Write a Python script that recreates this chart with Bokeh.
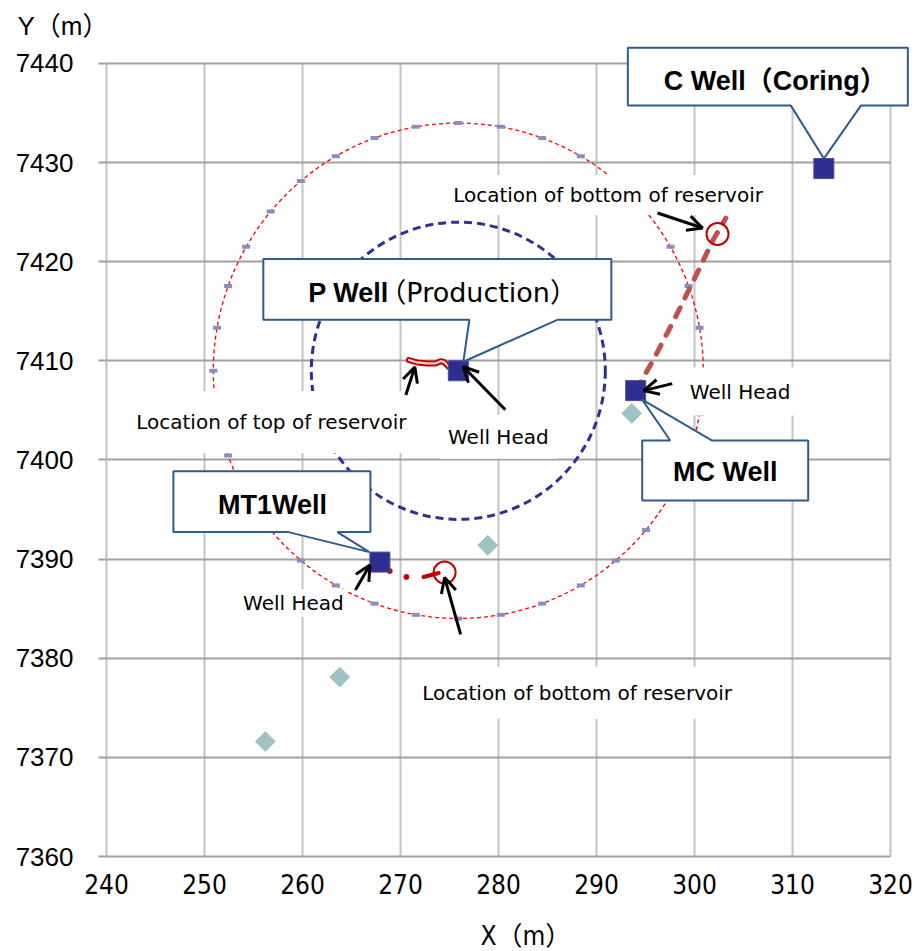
import numpy as np
from bokeh.plotting import figure
from bokeh.models import Range1d, FixedTicker, Label, Arrow, OpenHead, PolyAnnotation, Title
from bokeh.embed import file_html
from bokeh.resources import INLINE

# ---------------- data (metres) ----------------
x_ticks = [240, 250, 260, 270, 280, 290, 300, 310, 320]
y_ticks = [7360, 7370, 7380, 7390, 7400, 7410, 7420, 7430, 7440]

well_names = ["C Well", "P Well", "MC Well", "MT1Well"]
well_x = [313.2, 275.9, 294.0, 267.9]
well_y = [7429.4, 7409.0, 7407.0, 7389.7]

other_x = [293.6, 278.9, 263.8, 256.2]
other_y = [7404.7, 7391.4, 7378.1, 7371.6]

p_traj_x = [270.85, 271.70, 272.72, 273.57, 274.08, 274.42, 274.90, 275.9]
p_traj_y = [7410.08, 7409.84, 7409.74, 7409.74, 7409.97, 7409.90, 7409.40, 7409.0]

mc_traj_x = [294.0, 295.8, 297.9, 299.9, 301.9, 303.2]
mc_traj_y = [7407.0, 7410.1, 7414.1, 7418.1, 7422.2, 7424.4]
mc_bottom_x = [302.35]
mc_bottom_y = [7422.8]

mt1_dot_x = [268.9, 270.6]
mt1_dot_y = [7388.8, 7388.2]
mt1_seg_x = [272.35, 273.9]
mt1_seg_y = [7388.2, 7388.6]
mt1_bottom_x = [274.5]
mt1_bottom_y = [7388.65]

ring_outer_radius = 25.0
ring_inner_radius = 15.0
ring_marker_angles = [0, 10, 20, 30, 40, 50, 60, 70, 80, 90, 100, 110, 120, 130, 140, 150, 160, 170,
                      180, 190, 200, 210, 220, 230, 240, 250, 260, 270, 280, 290, 300, 310, 320, 330, 340, 350]

# ---------------- figure ----------------
W, H = 924, 951
BL, BR, BT, BB = 106, 12, 40, 94
FW, FH = W - BL - BR, H - BT - BB
X0, X1, Y0, Y1 = 240, 320, 7360, 7440
X_END, Y_END = 322.245, 7442.317   # a little room above/right for the callout

SANS = "Liberation Sans, Noto Sans CJK JP, sans-serif"
NARROW = "Liberation Sans Narrow, DejaVu Sans Condensed, Roboto Condensed, Liberation Sans, Noto Sans CJK JP, sans-serif"
LFONT = "DejaVu Sans, Noto Sans CJK JP, sans-serif"

p = figure(width=W, height=H, output_backend="svg", toolbar_location=None,
           x_range=Range1d(X0, X_END), y_range=Range1d(Y0, Y_END),
           min_border_left=BL, min_border_right=BR, min_border_top=BT, min_border_bottom=BB)
p.outline_line_color = None
p.background_fill_color = "white"

p.xaxis.ticker = FixedTicker(ticks=x_ticks)
p.yaxis.ticker = FixedTicker(ticks=y_ticks)
p.xaxis.bounds = (X0, X1)
p.yaxis.bounds = (Y0, Y1)
p.xgrid.ticker = FixedTicker(ticks=x_ticks)
p.ygrid.ticker = FixedTicker(ticks=y_ticks)
p.xgrid.cross_bounds = (Y0, Y1)
p.ygrid.cross_bounds = (X0, X1)
p.xgrid.grid_line_color = "#C4C4C4"
p.xgrid.grid_line_width = 2
p.ygrid.grid_line_color = "#A0A0A0"
p.ygrid.grid_line_width = 2

p.yaxis.axis_line_color = "#C4C4C4"
p.yaxis.axis_line_width = 2
p.yaxis.major_tick_out = 8
p.yaxis.major_tick_in = 0
p.yaxis.major_tick_line_color = "#A0A0A0"
p.yaxis.major_tick_line_width = 2
p.yaxis.minor_tick_line_color = None
p.yaxis.major_label_standoff = 25
p.yaxis.major_label_text_font = SANS
p.yaxis.major_label_text_font_size = "26px"
p.yaxis.major_label_text_color = "black"

p.xaxis.axis_line_color = "#A0A0A0"
p.xaxis.axis_line_width = 2
p.xaxis.major_tick_out = 0
p.xaxis.major_tick_in = 0
p.xaxis.minor_tick_line_color = None
p.xaxis.major_label_standoff = 17
p.xaxis.major_label_text_font = NARROW
p.xaxis.major_label_text_font_size = "26px"
p.xaxis.major_label_text_color = "black"

# axis titles
p.add_layout(Title(text="Y（m）", align="left", offset=-89, standoff=0,
                   text_font=SANS, text_font_size="26px", text_font_style="normal",
                   text_color="black"), "above")
p.add_layout(Title(text="X（m）", align="left", offset=374, standoff=2, padding=(0, 0, 21, 0),
                   text_font=NARROW, text_font_size="26px", text_font_style="normal",
                   text_color="black"), "below")

# ---------------- glyphs ----------------
Px, Py = well_x[1], well_y[1]
p.ellipse(x=[Px], y=[Py], width=2 * ring_outer_radius, height=2 * ring_outer_radius,
          fill_color=None, line_color="#FF0000", line_width=1.3, line_dash="4 3")
ang = np.radians(np.array(ring_marker_angles, dtype=float))
p.scatter(x=Px + ring_outer_radius * np.cos(ang), y=Py + ring_outer_radius * np.sin(ang),
          marker="dash", size=8, line_width=4, line_color="#8C8CBF")
p.ellipse(x=[Px], y=[Py], width=2 * ring_inner_radius, height=2 * ring_inner_radius,
          fill_color=None, line_color="#2E3192", line_width=3, line_dash="8 5")

p.scatter(x=other_x, y=other_y, marker="square", angle=np.pi / 4, size=14,
          fill_color="#9DC3C3", line_color="#9DC3C3")

p.line(x=p_traj_x, y=p_traj_y, line_color="#C00000", line_width=6, line_cap="round", line_join="round")
p.line(x=p_traj_x, y=p_traj_y, line_color="#F4CCCC", line_width=2.2, line_cap="round", line_join="round")

p.line(x=mc_traj_x, y=mc_traj_y, line_color="#C0504D", line_width=5, line_dash="10 11", line_cap="round")
p.scatter(x=mc_bottom_x, y=mc_bottom_y, marker="circle", size=22, fill_color=None,
          line_color="#C00000", line_width=2)

p.scatter(x=mt1_dot_x, y=mt1_dot_y, marker="circle", size=5, fill_color="#C00000", line_color="#C00000")
p.line(x=mt1_seg_x, y=mt1_seg_y, line_color="#C00000", line_width=4, line_cap="round")
p.scatter(x=mt1_bottom_x, y=mt1_bottom_y, marker="circle", size=22, fill_color=None,
          line_color="#C00000", line_width=2)

p.scatter(x=well_x, y=well_y, marker="square", size=20, fill_color="#2D2E8F", line_color="#4A4CA0",
          line_width=1)

# ---------------- annotations ----------------
SX = (X_END - X0) / FW
SY = (Y_END - Y0) / FH


def off(bx, by, dx, dy):
    """pixel offset (dx right, dy down) from a data point -> data coordinates"""
    return bx + dx * SX, by - dy * SY


BORDER = "#2F5B8C"
wells = {n: (x, y) for n, x, y in zip(well_names, well_x, well_y)}

# callout polygons, pixel offsets from the well
callouts = {
    "C Well": [(-196, -121), (84, -121), (84, -63), (37, -63), (0, -10), (-33, -63), (-196, -63)],
    "P Well": [(-195, -112), (153, -112), (153, -51), (99, -51), (5, -9), (11, -51), (-195, -51)],
    "MC Well": [(6.5, 50), (34.5, 50), (6.5, 9), (76.5, 50), (172.5, 50), (172.5, 110), (6.5, 110)],
    "MT1Well": [(-206.5, -91), (-9.5, -91), (-9.5, -30), (-42.5, -30), (-10.5, -10), (-91.5, -30), (-206.5, -30)],
}
for name, pts in callouts.items():
    bx, by = wells[name]
    xy = [off(bx, by, dx, dy) for dx, dy in pts]
    p.add_layout(PolyAnnotation(xs=[a for a, _ in xy], ys=[b for _, b in xy],
                                fill_color="white", fill_alpha=1.0,
                                line_color=BORDER, line_width=2, line_alpha=1.0))


def add_text(bx, by, dx, dy, text, size, style="normal", align="center", font=SANS,
             bg=None, pad=0):
    x, y = off(bx, by, dx, dy)
    kw = {}
    if bg is not None:
        kw = dict(background_fill_color=bg, background_fill_alpha=1.0, padding=pad)
    p.add_layout(Label(x=x, y=y, text=text, text_font=font, text_font_size=size,
                       text_font_style=style, text_align=align, text_baseline="middle",
                       text_color="black", **kw))


cx, cy = wells["C Well"]
add_text(cx, cy, -160, -88, "C Well（Coring）", "27px", "bold", "left")
add_text(Px, Py, -150, -78, "P Well", "27px", "bold", "left")
add_text(Px, Py, -79, -78, "（Production）", "27px", "normal", "left", font=LFONT)
mx, my = wells["MC Well"]
add_text(mx, my, 89.5, 82, "MC Well", "27px", "bold", "center")
tx, ty = wells["MT1Well"]
add_text(tx, ty, -107.5, -57, "MT1Well", "27px", "bold", "center")

mbx, mby = mc_bottom_x[0], mc_bottom_y[0]
tbx, tby = mt1_bottom_x[0], mt1_bottom_y[0]
psx, psy = p_traj_x[0], p_traj_y[0]
add_text(mbx, mby, -109.5, -39, "Location of bottom of reservoir", "20px", font=LFONT, bg="white", pad=(12, 8))
add_text(psx, psy, -137.5, 62, "Location of top of reservoir", "20px", font=LFONT, bg="white", pad=(15, 19))
add_text(Px, Py, 40, 66, "Well Head", "20px", font=LFONT, bg="white", pad=(8, 10))
add_text(mx, my, 104.5, 1, "Well Head", "20px", font=LFONT, bg="white", pad=(12, 12))
add_text(tx, ty, -86.5, 41, "Well Head", "20px", font=LFONT, bg="white", pad=(2, 2))
add_text(tbx, tby, 132.5, 120.5, "Location of bottom of reservoir", "20px", font=LFONT, bg="white", pad=(12, 14))

arrows = [
    ((mbx, mby), (-60, -21), (-15, -6)),
    ((Px, Py), (47, 39), (5, -4)),
    ((psx, psy), (-3, 35), (6, 7)),
    ((mx, my), (36.5, -7), (8, 0)),
    ((tx, ty), (-24.5, 28), (-10, 3)),
    ((tbx, tby), (16, 62), (0, 5)),
]
for (bx, by), t, h in arrows:
    xs, ys = off(bx, by, *t)
    xe, ye = off(bx, by, *h)
    p.add_layout(Arrow(x_start=xs, y_start=ys, x_end=xe, y_end=ye, line_width=3, line_color="black",
                       end=OpenHead(size=15, line_width=3, line_color="black")))

open("out.html", "w").write(file_html(p, INLINE))
